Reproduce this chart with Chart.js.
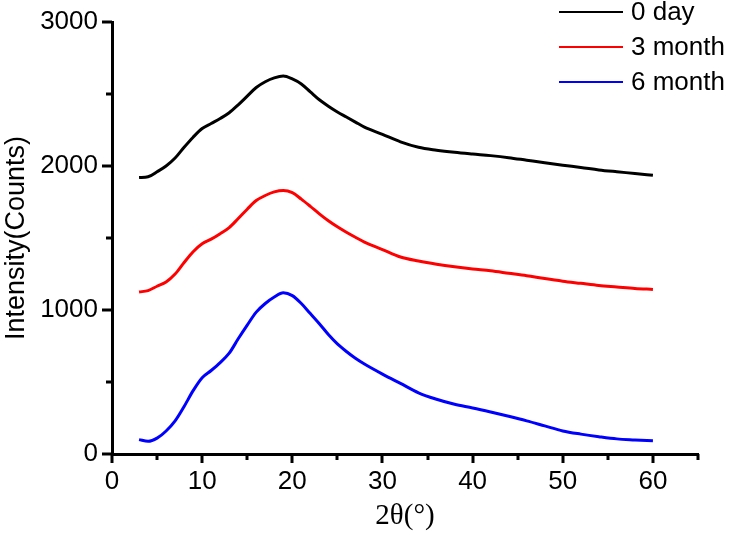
<!DOCTYPE html>
<html>
<head>
<meta charset="utf-8">
<script src="https://cdn.jsdelivr.net/npm/chart.js@4/dist/chart.umd.min.js"></script>
<style>
  html, body { margin: 0; padding: 0; background: #fff; }
  #wrap { width: 735px; height: 534px; }
</style>
</head>
<body>
<div id="wrap"><canvas id="xrdChart"></canvas></div>
<script>
// 2theta positions (deg)
const angles = [3,4,5,6,7,8,9,10,11,12,13,14,15,16,17,18,19,20,21,22,23,24,25,26,27,28,
  30,32,34,36,38,40,42,44,46,48,50,52,54,56,58,60];

const day0 = [1920,1925,1960,2000,2055,2130,2200,2260,2295,2330,2370,2425,2485,2545,2585,2612,2625,2605,2570,2515,2460,2415,2375,2340,2305,2270,
  2220,2168,2130,2110,2095,2083,2072,2058,2040,2022,2005,1990,1973,1960,1948,1935];

const month3 = [1125,1135,1165,1195,1250,1330,1405,1460,1492,1530,1572,1635,1700,1760,1795,1820,1830,1815,1770,1720,1668,1620,1578,1540,1505,1472,
  1420,1368,1340,1318,1300,1285,1272,1255,1238,1218,1200,1185,1170,1160,1150,1143];

const month6 = [100,88,110,160,230,330,440,530,580,635,700,800,895,985,1045,1090,1120,1100,1045,975,905,830,765,712,665,625,
  555,490,425,380,345,320,292,262,230,195,160,138,120,105,98,92];

const seriesNames = ['0 day', '3 month', '6 month'];
const seriesColors = ['#000000', '#ff0000', '#0000ff'];
const xTickLabels = [0, 10, 20, 30, 40, 50, 60];
const yTickLabels = [0, 1000, 2000, 3000];

const toPoints = vals => vals.map((v, i) => ({ x: angles[i], y: v }));

// ticks drawn by hand so minor ones can be shorter
const axisTicks = {
  id: 'axisTicks',
  afterDraw(chart) {
    const ctx = chart.ctx;
    const x = chart.scales.x, y = chart.scales.y;
    const area = chart.chartArea;
    ctx.save();
    ctx.strokeStyle = '#000';
    ctx.lineWidth = 3;
    for (let v = 0; v <= 65; v += 5) {
      const px = Math.round(x.getPixelForValue(v));
      const len = v % 10 === 0 ? 9 : 6;
      ctx.beginPath();
      ctx.moveTo(px, area.bottom);
      ctx.lineTo(px, area.bottom + len);
      ctx.stroke();
    }
    for (let v = 0; v <= 3000; v += 500) {
      const py = Math.round(y.getPixelForValue(v));
      const len = v % 1000 === 0 ? 10 : 6;
      ctx.beginPath();
      ctx.moveTo(area.left, py);
      ctx.lineTo(area.left - len, py);
      ctx.stroke();
    }
    ctx.restore();
  }
};

// legend in the top right corner like the original
const cornerLegend = {
  id: 'cornerLegend',
  afterDraw(chart) {
    const ctx = chart.ctx;
    ctx.save();
    ctx.font = '26px "Liberation Sans", Arial, sans-serif';
    ctx.textBaseline = 'middle';
    chart.data.datasets.forEach((ds, i) => {
      const yy = 12 + i * 35;
      ctx.strokeStyle = ds.borderColor;
      ctx.lineWidth = 2;
      ctx.beginPath();
      ctx.moveTo(559, yy);
      ctx.lineTo(623, yy);
      ctx.stroke();
      ctx.fillStyle = '#000';
      ctx.fillText(ds.label, 631, yy + 1);
    });
    ctx.restore();
  }
};

const dataXrd = {
  datasets: [day0, month3, month6].map((vals, i) => ({
    label: seriesNames[i],
    data: toPoints(vals),
    borderColor: seriesColors[i],
    borderWidth: 3,
    pointRadius: 0,
    cubicInterpolationMode: 'monotone',
    fill: false
  }))
};

const configXrd = {
  type: 'line',
  data: dataXrd,
  options: {
    responsive: true,
    maintainAspectRatio: false,
    animation: false,
    layout: { padding: { top: 22, right: 37, left: 0, bottom: 0 } },
    plugins: {
      legend: { display: false },
      tooltip: { enabled: false }
    },
    scales: {
      x: {
        type: 'linear',
        min: 0,
        max: 65,
        afterFit: s => { s.height = 80; },
        border: { display: true, color: '#000', width: 3 },
        grid: { drawOnChartArea: false, drawTicks: true, tickLength: 9, tickColor: 'rgba(0,0,0,0)' },
        ticks: {
          stepSize: 5,
          autoSkip: false,
          maxRotation: 0,
          padding: 3,
          color: '#000',
          font: { family: '"Liberation Sans", Arial, sans-serif', size: 26 },
          callback: v => xTickLabels.includes(v) ? String(v) : ''
        },
        title: {
          display: true,
          text: '2θ(°)',
          color: '#000',
          font: { family: '"Liberation Serif", "Times New Roman", serif', size: 29 },
          padding: { top: 0, bottom: 0 }
        }
      },
      y: {
        min: 0,
        max: 3000,
        afterFit: s => { s.width = 112; },
        border: { display: true, color: '#000', width: 3 },
        grid: { drawOnChartArea: false, drawTicks: true, tickLength: 10, tickColor: 'rgba(0,0,0,0)' },
        ticks: {
          stepSize: 500,
          autoSkip: false,
          padding: 4,
          color: '#000',
          font: { family: '"Liberation Sans", Arial, sans-serif', size: 26 },
          callback: v => yTickLabels.includes(v) ? String(v) : ''
        },
        title: {
          display: true,
          text: 'Intensity(Counts)',
          color: '#000',
          font: { family: '"Liberation Sans", Arial, sans-serif', size: 27 },
          padding: { top: 0, bottom: 0 }
        }
      }
    }
  },
  plugins: [axisTicks, cornerLegend]
};

const xrdChart = new Chart(
  document.getElementById('xrdChart'),
  configXrd
);
</script>
</body>
</html>
